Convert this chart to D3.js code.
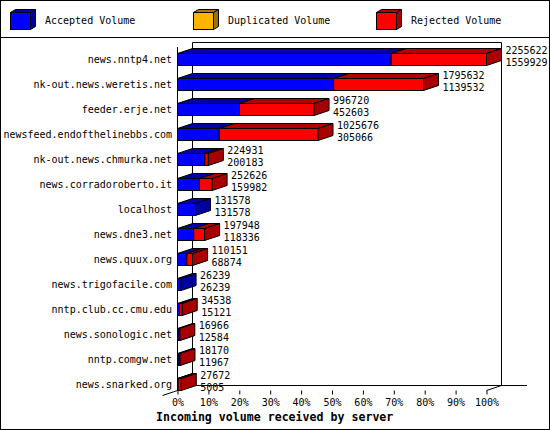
<!DOCTYPE html>
<html><head><meta charset="utf-8">
<script src="https://cdn.jsdelivr.net/npm/d3@7"></script>
<style>body{margin:0;background:#fff}svg{display:block}</style>
</head><body>
<svg id="c" width="550" height="430"></svg>
<script>
const servers = ["news.nntp4.net","nk-out.news.weretis.net","feeder.erje.net","newsfeed.endofthelinebbs.com","nk-out.news.chmurka.net","news.corradoroberto.it","localhost","news.dne3.net","news.quux.org","news.trigofacile.com","nntp.club.cc.cmu.edu","news.sonologic.net","nntp.comgw.net","news.snarked.org"];
const totalVolume = [2255622,1795632,996720,1025676,224931,252626,131578,197948,110151,26239,34538,16966,18170,27672];
const acceptedVolume = [1559929,1139532,452603,305066,200183,159982,131578,118336,68874,26239,15121,12584,11967,5005];
const duplicatedVolume = [0,0,0,0,0,0,0,0,0,0,0,0,0,0];
const legendLabels = ["Accepted Volume","Duplicated Volume","Rejected Volume"];
const percentTicks = [0,10,20,30,40,50,60,70,80,90,100];
const xTitle = "Incoming volume received by server";

const colors = [
  {front:"#0000ff", top:"#0000a8", side:"#0000a0"},
  {front:"#ffb400", top:"#a87800", side:"#a07000"},
  {front:"#ff0000", top:"#b00000", side:"#a80000"}
];

const svg = d3.select("#c");
const font = "'DejaVu Sans Mono', 'Liberation Mono', monospace";
const DX = 15, DY = 5, BH = 12;

const x = d3.scaleLinear().domain([0, d3.max(totalVolume)]).range([177.5, 486.5]);
const pct = d3.scaleLinear().domain([0, 100]).range([177.5, 486.5]);
const y = d3.scalePoint().domain(servers).range([53.5, 378.5]);

// frame
svg.append("rect").attr("x",0.5).attr("y",0.5).attr("width",549).attr("height",429)
  .attr("fill","#fff").attr("stroke","#000");
svg.append("line").attr("x1",0).attr("x2",550).attr("y1",37.5).attr("y2",37.5).attr("stroke","#000");

// legend
const lg = svg.append("g");
legendLabels.forEach((lab, i) => {
  const bx = [10.5, 193.5, 376.5][i], by = 12.5, bw = 20, bh = 17, dx = 5, dy = 3;
  const c = colors[i];
  lg.append("polygon").attr("points", [[bx,by],[bx+bw,by],[bx+bw+dx,by-dy],[bx+dx,by-dy]].join(" "))
    .attr("fill", c.top).attr("stroke","#000");
  lg.append("polygon").attr("points", [[bx+bw,by],[bx+bw+dx,by-dy],[bx+bw+dx,by+bh-dy],[bx+bw,by+bh]].join(" "))
    .attr("fill", c.side).attr("stroke","#000");
  lg.append("rect").attr("x",bx).attr("y",by).attr("width",bw).attr("height",bh)
    .attr("fill", c.front).attr("stroke","#000");
  lg.append("text").attr("x",[45,228,411][i]).attr("y",24).text(lab)
    .attr("font-family",font).attr("font-size","10px").attr("fill","#000");
});

// walls
const walls = svg.append("g").attr("stroke","#000").attr("stroke-width",1).attr("fill","none");
const backL = x(0) + DX, backR = x.range()[1] + DX, topY = 42.5, floorF = 390.5, floorB = floorF - DY;
walls.append("line").attr("x1",backL).attr("x2",backL).attr("y1",topY).attr("y2",floorB);
walls.append("line").attr("x1",backL).attr("x2",backR).attr("y1",topY).attr("y2",topY);
walls.append("line").attr("x1",backR).attr("x2",backR).attr("y1",topY).attr("y2",floorB);
walls.append("line").attr("x1",backL).attr("x2",527).attr("y1",floorB).attr("y2",floorB);
walls.append("line").attr("x1",x(0)).attr("x2",x(0)).attr("y1",47).attr("y2",floorF);
walls.append("line").attr("x1",x(0)-DX).attr("x2",backL).attr("y1",floorF+DY).attr("y2",floorB);
walls.append("line").attr("x1",x.range()[1]).attr("x2",backR).attr("y1",floorF).attr("y2",floorB);

// axis
const axis = d3.axisBottom(pct).tickValues(percentTicks).tickSize(4).tickPadding(3)
  .tickFormat(d => d + "%");
const ag = svg.append("g").attr("transform", `translate(0,${floorF})`).call(axis);
ag.select(".domain").remove();
ag.selectAll("line").attr("stroke","#000");
ag.selectAll("text").attr("font-family",font).attr("font-size","10px").attr("fill","#000")
  .attr("dy",null).attr("y",15.5);

// bars
const bars = svg.append("g");
function segment(g, x0, x1, yt, c) {
  g.append("rect").attr("x",x0).attr("y",yt).attr("width",Math.max(0,x1-x0)).attr("height",BH)
    .attr("fill",c.front).attr("stroke","#000");
  g.append("polygon").attr("points",[[x0,yt],[x1,yt],[x1+DX,yt-DY],[x0+DX,yt-DY]].join(" "))
    .attr("fill",c.top).attr("stroke","#000").attr("stroke-linejoin","miter");
  g.append("polygon").attr("points",[[x1,yt],[x1+DX,yt-DY],[x1+DX,yt+BH-DY],[x1,yt+BH]].join(" "))
    .attr("fill",c.side).attr("stroke","#000");
}
servers.forEach((s, i) => {
  const yt = y(s);
  const g = bars.append("g");
  const acc = acceptedVolume[i], dup = duplicatedVolume[i], tot = totalVolume[i];
  const bounds = [[0, acc], [acc, acc + dup], [acc + dup, tot]];
  bounds.forEach((b, k) => {
    if (b[1] > b[0]) segment(g, x(b[0]), x(b[1]), yt, colors[k]);
  });
  // labels
  svg.append("text").attr("x",172).attr("y",yt+9).attr("text-anchor","end").text(s)
    .attr("font-family",font).attr("font-size","10px").attr("fill","#000");
  const lx = x(tot) + DX + 4;
  svg.append("text").attr("x",lx).attr("y",yt+0.5).text(tot)
    .attr("font-family",font).attr("font-size","10px").attr("fill","#000");
  svg.append("text").attr("x",lx).attr("y",yt+12).text(acc)
    .attr("font-family",font).attr("font-size","10px").attr("fill","#000");
});

// title
svg.append("text").attr("x",156).attr("y",420.5).text(xTitle)
  .attr("font-family",font).attr("font-size","11.6px").attr("font-weight","bold").attr("fill","#000");
</script>
</body></html>
